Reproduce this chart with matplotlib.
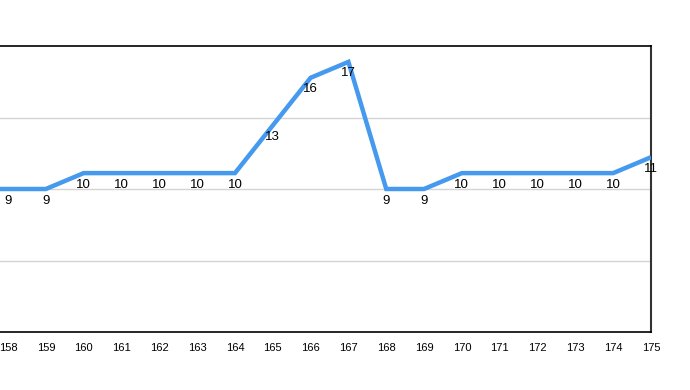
import matplotlib.pyplot as plt

# data
days = list(range(157, 176))
values = [9, 9, 9, 10, 10, 10, 10, 10, 13, 16, 17, 9, 9, 10, 10, 10, 10, 10, 11]
shown_days = days[1:]          # 157 lies left of the visible area
tick_labels = [str(d) for d in shown_days]

plt.rcParams['font.family'] = ['Liberation Sans', 'DejaVu Sans']

fig = plt.figure(figsize=(6.9, 3.9), dpi=100)
# axes run off the left edge of the picture, as in the reference
ax = fig.add_axes([-29.8 / 690, 58 / 390, 680.8 / 690, 286 / 390])

ax.plot(days, values, color='#4599ee', linewidth=3.2, solid_joinstyle='miter',
        solid_capstyle='butt', zorder=3)

for d, v in zip(days[1:], values[1:]):
    ax.annotate(str(v), (d, v), xytext=(0, -4), textcoords='offset points',
                ha='center', va='top', fontsize=9.5, color='black', zorder=4)

ax.set_xlim(157, 175)
ax.set_ylim(0, 18)
ax.set_yticks([4.5, 9, 13.5])
ax.set_yticklabels([])
ax.set_xticks(shown_days)
ax.set_xticklabels(tick_labels, fontsize=8)
ax.tick_params(axis='both', length=0, pad=8)
ax.grid(axis='y', color='#d4d4d4', linewidth=1)
ax.set_axisbelow(True)

for side in ['top', 'bottom']:
    ax.spines[side].set_linewidth(1.2)
    ax.spines[side].set_color('black')
ax.spines['right'].set_linewidth(1.5)
ax.spines['right'].set_color('#333333')
ax.spines['left'].set_visible(False)

fig.savefig('out.png', dpi=100)
